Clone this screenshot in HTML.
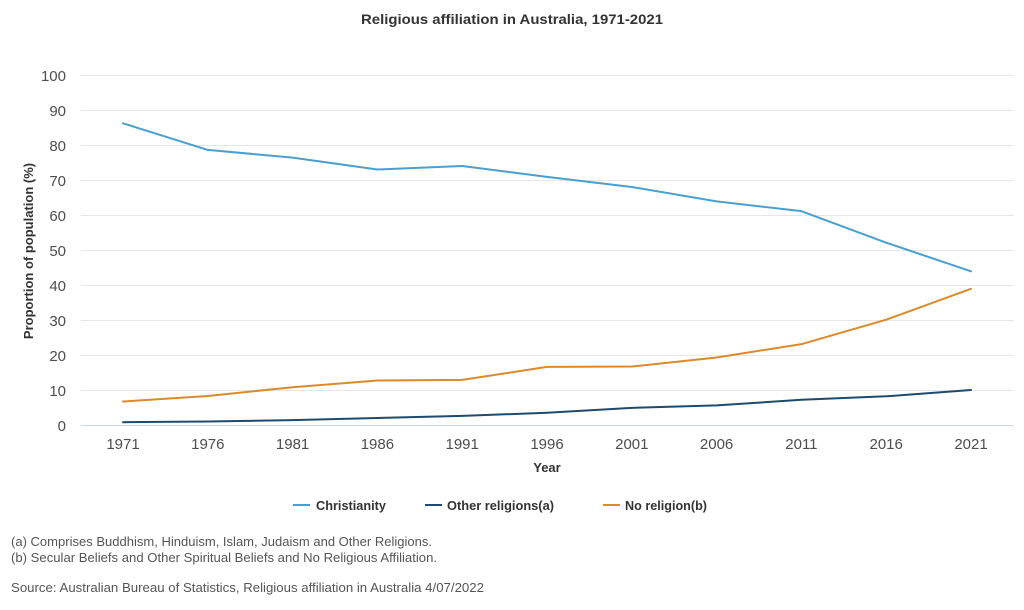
<!DOCTYPE html>
<html><head><meta charset="utf-8"><style>
html,body{margin:0;padding:0;background:#fff;}
svg{display:block;font-family:"Liberation Sans",Arial,sans-serif;}
</style></head><body>
<svg width="1024" height="610" viewBox="0 0 1024 610" xmlns="http://www.w3.org/2000/svg">
<rect width="1024" height="610" fill="#fff"/>
<text x="512" y="24" text-anchor="middle" font-size="14" font-weight="bold" fill="#333" textLength="302" lengthAdjust="spacingAndGlyphs">Religious affiliation in Australia, 1971-2021</text>
<g stroke="#e6e6e6" stroke-width="1">
<line x1="81" y1="75.5" x2="1014" y2="75.5"/>
<line x1="81" y1="110.5" x2="1014" y2="110.5"/>
<line x1="81" y1="145.5" x2="1014" y2="145.5"/>
<line x1="81" y1="180.5" x2="1014" y2="180.5"/>
<line x1="81" y1="215.5" x2="1014" y2="215.5"/>
<line x1="81" y1="250.5" x2="1014" y2="250.5"/>
<line x1="81" y1="285.5" x2="1014" y2="285.5"/>
<line x1="81" y1="320.5" x2="1014" y2="320.5"/>
<line x1="81" y1="355.5" x2="1014" y2="355.5"/>
<line x1="81" y1="390.5" x2="1014" y2="390.5"/>
</g>
<line x1="81" y1="425.5" x2="1014" y2="425.5" stroke="#ccd6eb" stroke-width="1"/>
<g font-size="15" fill="#4d4d4d" text-anchor="end">
<text x="66" y="81">100</text>
<text x="66" y="116">90</text>
<text x="66" y="151">80</text>
<text x="66" y="186">70</text>
<text x="66" y="221">60</text>
<text x="66" y="256">50</text>
<text x="66" y="291">40</text>
<text x="66" y="326">30</text>
<text x="66" y="361">20</text>
<text x="66" y="396">10</text>
<text x="66" y="431">0</text>
</g>
<text transform="translate(33,251) rotate(-90)" text-anchor="middle" font-size="13" font-weight="bold" fill="#333">Proportion of population (%)</text>
<g font-size="15" fill="#4d4d4d" text-anchor="middle">
<text x="123" y="449">1971</text>
<text x="207.8" y="449">1976</text>
<text x="292.6" y="449">1981</text>
<text x="377.4" y="449">1986</text>
<text x="462.2" y="449">1991</text>
<text x="547" y="449">1996</text>
<text x="631.8" y="449">2001</text>
<text x="716.6" y="449">2006</text>
<text x="801.4" y="449">2011</text>
<text x="886.2" y="449">2016</text>
<text x="971" y="449">2021</text>
</g>
<text x="547" y="472" text-anchor="middle" font-size="13" font-weight="bold" fill="#333">Year</text>
<g fill="none" stroke-width="2" stroke-linejoin="round" stroke-linecap="round">
<polyline stroke="#4a9fd0" points="123,123.3 207.8,149.9 292.6,157.6 377.4,169.5 462.2,166 547,176.85 631.8,187 716.6,201.35 801.4,211.15 886.2,242.65 971,271.35"/>
<polyline stroke="#1d4a6e" points="123,422.2 207.8,421.5 292.6,420.1 377.4,418 462.2,415.9 547,412.75 631.8,407.85 716.6,405.4 801.4,399.8 886.2,396.3 971,390"/>
<polyline stroke="#d98a2b" points="123,401.55 207.8,395.95 292.6,387.2 377.4,380.55 462.2,379.85 547,366.9 631.8,366.55 716.6,357.45 801.4,344.15 886.2,319.65 971,288.85"/>
</g>
<g font-size="13" font-weight="bold" fill="#333">
<line x1="293" y1="505" x2="310" y2="505" stroke="#4a9fd0" stroke-width="2"/>
<text x="316" y="510" textLength="70" lengthAdjust="spacingAndGlyphs">Christianity</text>
<line x1="425" y1="505" x2="442" y2="505" stroke="#1d4a6e" stroke-width="2"/>
<text x="447" y="510" textLength="107" lengthAdjust="spacingAndGlyphs">Other religions(a)</text>
<line x1="603" y1="505" x2="620" y2="505" stroke="#d98a2b" stroke-width="2"/>
<text x="625" y="510" textLength="82" lengthAdjust="spacingAndGlyphs">No religion(b)</text>
</g>
<g font-size="13" fill="#555">
<text x="11" y="546" textLength="421" lengthAdjust="spacingAndGlyphs">(a) Comprises Buddhism, Hinduism, Islam, Judaism and Other Religions.</text>
<text x="11" y="562" textLength="426" lengthAdjust="spacingAndGlyphs">(b) Secular Beliefs and Other Spiritual Beliefs and No Religious Affiliation.</text>
<text x="11" y="592" textLength="473" lengthAdjust="spacingAndGlyphs">Source: Australian Bureau of Statistics, Religious affiliation in Australia 4/07/2022</text>
</g>
</svg>
</body></html>
